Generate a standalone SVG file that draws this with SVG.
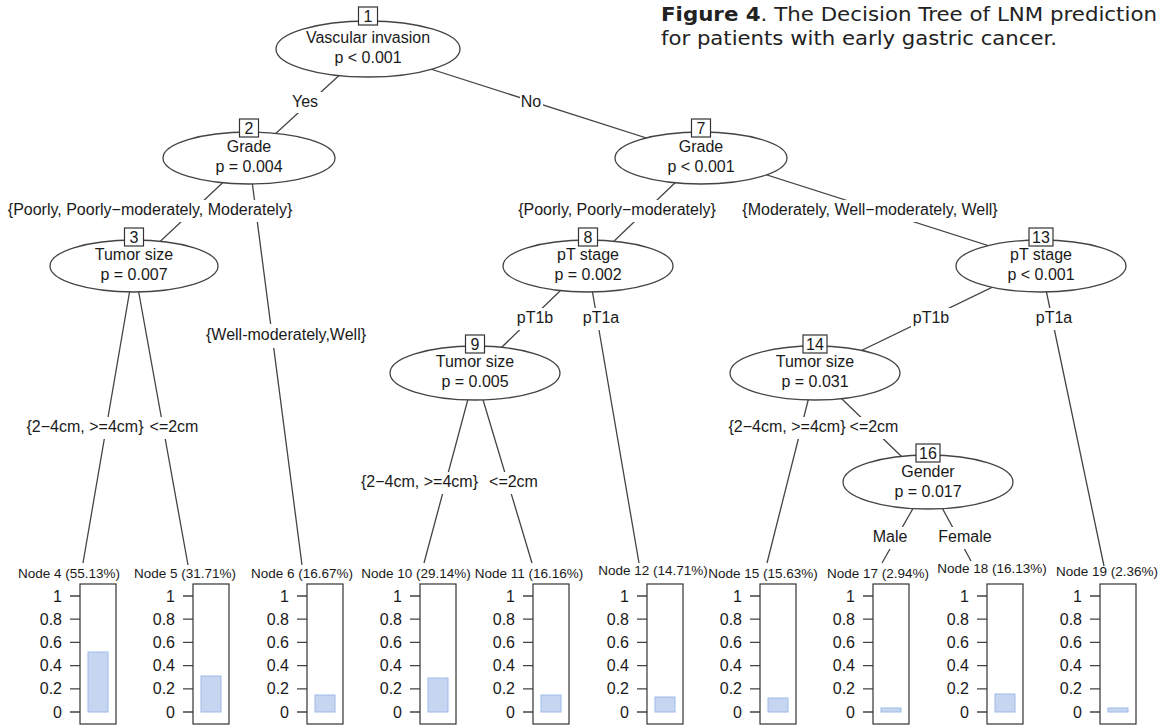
<svg xmlns="http://www.w3.org/2000/svg" width="1163" height="725" viewBox="0 0 1163 725">
<style>
text{font-family:"Liberation Sans",Arial,sans-serif;fill:#1a1a1a}
.t{font-size:16px;text-anchor:middle}
.nl{font-size:13.5px;text-anchor:middle}
.tk{font-size:16px;text-anchor:end}
.el{fill:#fff;stroke:#444;stroke-width:1.3}
.idb{fill:#fff;stroke:#333;stroke-width:1.2}
.ln{stroke:#444;stroke-width:1.3;fill:none}
.bg{fill:#fff}
.frame{fill:#fff;stroke:#333;stroke-width:1.2}
.bar{fill:#c6d6f0;stroke:#9dbbe8;stroke-width:1}
.cap{font-family:"DejaVu Sans","Liberation Sans",sans-serif;font-size:20px;fill:#222}
</style>
<defs>
<g id="axis">
<path class="ln" d="M-10 596H0M-10 619.2H0M-10 642.4H0M-10 665.6H0M-10 688.8H0M-10 712H0"/>
<text class="tk" x="-18" y="601.5">1</text>
<text class="tk" x="-18" y="624.7">0.8</text>
<text class="tk" x="-18" y="647.9">0.6</text>
<text class="tk" x="-18" y="671.1">0.4</text>
<text class="tk" x="-18" y="694.3">0.2</text>
<text class="tk" x="-18" y="717.5">0</text>
<rect class="frame" x="0" y="584" width="36" height="140"/>
</g>
</defs>
<rect width="1163" height="725" fill="#fff"/>
<g id="caption">
<text class="cap" x="661" y="21" textLength="496" lengthAdjust="spacingAndGlyphs"><tspan font-weight="bold">Figure 4</tspan>. The Decision Tree of LNM prediction</text>
<text class="cap" x="661" y="45" textLength="396" lengthAdjust="spacingAndGlyphs">for patients with early gastric cancer.</text>
</g>
<g id="connectors">
<path class="ln" d="M368 49L249 158M368 49L709 158M249 158L134 266M249 158L302 565M134 266L83 563M134 266L188 565M701 158L588 266M714 158L1052 266M586 266L475 373M588 266L639 563M475 373L424 563M475 373L532 563M1036 266L815 373M1041 266L1104 566M815 373L767 563M815 373L928 482M928 482L882 563M928 482L971 561"/>
<rect class="bg" x="288" y="92" width="36" height="21"/><text class="t" x="305" y="107">Yes</text>
<rect class="bg" x="520" y="92" width="23" height="21"/><text class="t" x="531" y="107">No</text>
<rect class="bg" x="5" y="200" width="291" height="22"/><text class="t" x="150" y="215">{Poorly, Poorly−moderately, Moderately}</text>
<rect class="bg" x="515" y="200" width="203" height="22"/><text class="t" x="617" y="215">{Poorly, Poorly−moderately}</text>
<rect class="bg" x="739" y="200" width="262" height="22"/><text class="t" x="870" y="215">{Moderately, Well−moderately, Well}</text>
<rect class="bg" x="203" y="324" width="166" height="24"/><text class="t" x="286" y="340">{Well-moderately,Well}</text>
<rect class="bg" x="25" y="417" width="175" height="22"/><text class="t" x="85" y="432">{2−4cm, &gt;=4cm}</text><text class="t" x="174" y="432">&lt;=2cm</text>
<rect class="bg" x="515" y="308" width="108" height="22"/><text class="t" x="535" y="323">pT1b</text><text class="t" x="601" y="323">pT1a</text>
<rect class="bg" x="359" y="472" width="182" height="22"/><text class="t" x="419.5" y="487">{2−4cm, &gt;=4cm}</text><text class="t" x="513.5" y="487">&lt;=2cm</text>
<rect class="bg" x="911" y="308" width="41" height="22"/><text class="t" x="931" y="323">pT1b</text>
<rect class="bg" x="1034" y="308" width="41" height="22"/><text class="t" x="1054" y="323">pT1a</text>
<rect class="bg" x="727" y="417" width="172" height="22"/><text class="t" x="787" y="432">{2−4cm, &gt;=4cm}</text><text class="t" x="874" y="432">&lt;=2cm</text>
<rect class="bg" x="870" y="527" width="124" height="22"/><text class="t" x="890" y="542">Male</text><text class="t" x="965" y="542">Female</text>
</g>
<g id="node1"><ellipse class="el" cx="368" cy="49" rx="92" ry="28"/><rect class="idb" x="358.5" y="7" width="19" height="18"/><text class="t" x="368" y="22">1</text><text class="t" x="368" y="43">Vascular invasion</text><text class="t" x="368" y="63">p &lt; 0.001</text></g>
<g id="node2"><ellipse class="el" cx="249" cy="158" rx="86" ry="26"/><rect class="idb" x="239.5" y="119" width="19" height="18"/><text class="t" x="249" y="134">2</text><text class="t" x="249" y="152">Grade</text><text class="t" x="249" y="172">p = 0.004</text></g>
<g id="node7"><ellipse class="el" cx="701" cy="158" rx="86" ry="26"/><rect class="idb" x="691.5" y="119" width="19" height="18"/><text class="t" x="701" y="134">7</text><text class="t" x="701" y="152">Grade</text><text class="t" x="701" y="172">p &lt; 0.001</text></g>
<g id="node3"><ellipse class="el" cx="134" cy="266" rx="84" ry="26"/><rect class="idb" x="124.5" y="228" width="19" height="18"/><text class="t" x="134" y="243">3</text><text class="t" x="134" y="260">Tumor size</text><text class="t" x="134" y="280">p = 0.007</text></g>
<g id="node8"><ellipse class="el" cx="588" cy="266" rx="85" ry="26"/><rect class="idb" x="578.5" y="228" width="19" height="18"/><text class="t" x="588" y="243">8</text><text class="t" x="588" y="260">pT stage</text><text class="t" x="588" y="280">p = 0.002</text></g>
<g id="node13"><ellipse class="el" cx="1041" cy="266" rx="85" ry="26"/><rect class="idb" x="1029" y="228" width="24" height="18"/><text class="t" x="1041" y="243">13</text><text class="t" x="1041" y="260">pT stage</text><text class="t" x="1041" y="280">p &lt; 0.001</text></g>
<g id="node9"><ellipse class="el" cx="475" cy="373" rx="85" ry="27"/><rect class="idb" x="465.5" y="335" width="19" height="18"/><text class="t" x="475" y="350">9</text><text class="t" x="475" y="367">Tumor size</text><text class="t" x="475" y="387">p = 0.005</text></g>
<g id="node14"><ellipse class="el" cx="815" cy="373" rx="85" ry="27"/><rect class="idb" x="803" y="335" width="24" height="18"/><text class="t" x="815" y="350">14</text><text class="t" x="815" y="367">Tumor size</text><text class="t" x="815" y="387">p = 0.031</text></g>
<g id="node16"><ellipse class="el" cx="928" cy="482" rx="85" ry="27"/><rect class="idb" x="916" y="444" width="24" height="18"/><text class="t" x="928" y="459">16</text><text class="t" x="928" y="477">Gender</text><text class="t" x="928" y="497">p = 0.017</text></g>
<g id="node4"><text class="nl" x="69" y="578">Node 4 (55.13%)</text><use href="#axis" x="80"/><rect class="bar" x="88" y="652" width="20" height="60"/></g>
<g id="node5"><text class="nl" x="185" y="578">Node 5 (31.71%)</text><use href="#axis" x="193"/><rect class="bar" x="201" y="676" width="20" height="36"/></g>
<g id="node6"><text class="nl" x="302" y="578">Node 6 (16.67%)</text><use href="#axis" x="307"/><rect class="bar" x="315" y="695" width="20" height="17"/></g>
<g id="node10"><text class="nl" x="416" y="578">Node 10 (29.14%)</text><use href="#axis" x="420"/><rect class="bar" x="428" y="678" width="20" height="34"/></g>
<g id="node11"><text class="nl" x="529" y="578">Node 11 (16.16%)</text><use href="#axis" x="533"/><rect class="bar" x="541" y="695" width="20" height="17"/></g>
<g id="node12"><text class="nl" x="653" y="575">Node 12 (14.71%)</text><use href="#axis" x="647"/><rect class="bar" x="655" y="697" width="20" height="15"/></g>
<g id="node15"><text class="nl" x="763" y="578">Node 15 (15.63%)</text><use href="#axis" x="760"/><rect class="bar" x="768" y="698" width="20" height="14"/></g>
<g id="node17"><text class="nl" x="878" y="578">Node 17 (2.94%)</text><use href="#axis" x="873"/><rect class="bar" x="881" y="708" width="20" height="4"/></g>
<g id="node18"><text class="nl" x="992" y="573">Node 18 (16.13%)</text><use href="#axis" x="987"/><rect class="bar" x="995" y="694" width="20" height="18"/></g>
<g id="node19"><text class="nl" x="1107" y="576">Node 19 (2.36%)</text><use href="#axis" x="1100"/><rect class="bar" x="1108" y="708" width="20" height="4"/></g>
</svg>
